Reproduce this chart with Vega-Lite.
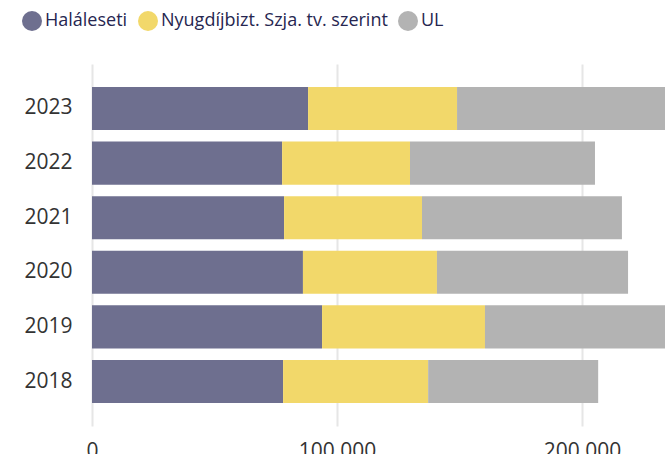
{
  "$schema": "https://vega.github.io/schema/vega-lite/v6.json",
  "width": 573,
  "height": 362,
  "autosize": {"type": "none"},
  "padding": {"left": 92, "top": 64, "right": 0, "bottom": 28},
  "background": "white",
  "config": {"view": {"stroke": null}},
  "data": {
    "values": [
      {"ev": "2023", "tipus": "Haláleseti", "ertek": 88200, "sorrend": 1},
      {"ev": "2023", "tipus": "Nyugdíjbizt. Szja. tv. szerint", "ertek": 60800, "sorrend": 2},
      {"ev": "2023", "tipus": "UL", "ertek": 92000, "sorrend": 3},
      {"ev": "2022", "tipus": "Haláleseti", "ertek": 77600, "sorrend": 1},
      {"ev": "2022", "tipus": "Nyugdíjbizt. Szja. tv. szerint", "ertek": 52200, "sorrend": 2},
      {"ev": "2022", "tipus": "UL", "ertek": 75500, "sorrend": 3},
      {"ev": "2021", "tipus": "Haláleseti", "ertek": 78400, "sorrend": 1},
      {"ev": "2021", "tipus": "Nyugdíjbizt. Szja. tv. szerint", "ertek": 56300, "sorrend": 2},
      {"ev": "2021", "tipus": "UL", "ertek": 81600, "sorrend": 3},
      {"ev": "2020", "tipus": "Haláleseti", "ertek": 86100, "sorrend": 1},
      {"ev": "2020", "tipus": "Nyugdíjbizt. Szja. tv. szerint", "ertek": 54700, "sorrend": 2},
      {"ev": "2020", "tipus": "UL", "ertek": 78000, "sorrend": 3},
      {"ev": "2019", "tipus": "Haláleseti", "ertek": 93900, "sorrend": 1},
      {"ev": "2019", "tipus": "Nyugdíjbizt. Szja. tv. szerint", "ertek": 66500, "sorrend": 2},
      {"ev": "2019", "tipus": "UL", "ertek": 80000, "sorrend": 3},
      {"ev": "2018", "tipus": "Haláleseti", "ertek": 78000, "sorrend": 1},
      {"ev": "2018", "tipus": "Nyugdíjbizt. Szja. tv. szerint", "ertek": 59200, "sorrend": 2},
      {"ev": "2018", "tipus": "UL", "ertek": 69400, "sorrend": 3}
    ]
  },
  "mark": {"type": "bar", "clip": true},
  "encoding": {
    "y": {
      "field": "ev",
      "type": "nominal",
      "sort": "descending",
      "scale": {"paddingInner": 0.21, "paddingOuter": 0.42},
      "axis": {
        "title": null,
        "domain": false,
        "ticks": false,
        "labelPadding": 20,
        "labelFont": "Open Sans",
        "labelFontSize": 21,
        "labelColor": "#333333"
      }
    },
    "x": {
      "field": "ertek",
      "type": "quantitative",
      "stack": "zero",
      "scale": {"domain": [0, 233878], "nice": false},
      "axis": {
        "title": null,
        "values": [0, 100000, 200000],
        "labelExpr": "replace(format(datum.value, ','), ',', ' ')",
        "labelFlush": false,
        "labelOverlap": false,
        "domain": false,
        "ticks": false,
        "grid": true,
        "gridColor": "#e6e6e6",
        "gridWidth": 2,
        "labelPadding": 14,
        "labelFont": "Open Sans",
        "labelFontSize": 21,
        "labelColor": "#333333",
        "labelBaseline": "top"
      }
    },
    "color": {
      "field": "tipus",
      "type": "nominal",
      "scale": {
        "domain": ["Haláleseti", "Nyugdíjbizt. Szja. tv. szerint", "UL"],
        "range": ["#6e6f8f", "#f2d86a", "#b3b3b3"]
      },
      "legend": {
        "title": null,
        "orient": "none",
        "legendX": -70,
        "legendY": -53,
        "direction": "horizontal",
        "symbolType": "circle",
        "symbolSize": 400,
        "symbolStrokeWidth": 0,
        "symbolOpacity": 1,
        "labelFont": "Open Sans",
        "labelFontSize": 18,
        "labelColor": "#262650",
        "labelOffset": 3,
        "columnPadding": 10,
        "padding": 0,
        "labelLimit": 400
      }
    },
    "order": {"field": "sorrend", "type": "quantitative"}
  }
}
